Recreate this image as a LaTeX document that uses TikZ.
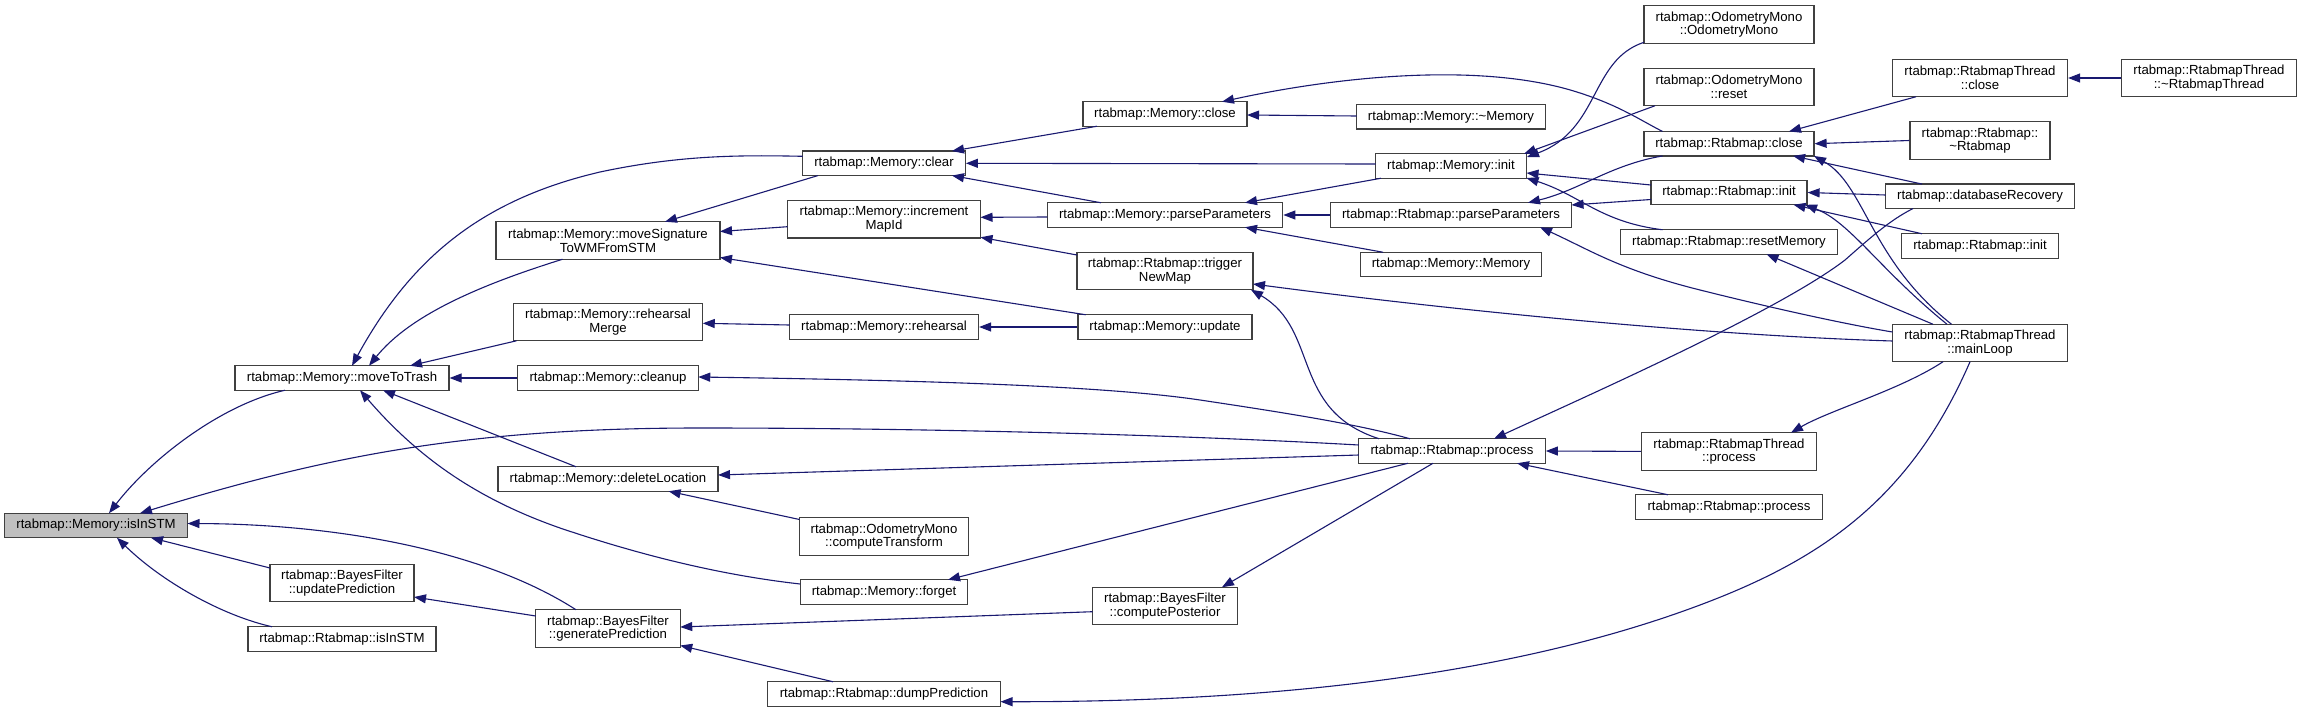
\documentclass[tikz,border=0pt]{standalone}
\usepackage{fontspec}
\setmainfont{Liberation Sans}
\usetikzlibrary{arrows.meta,calc}
\definecolor{mblue}{RGB}{25,25,112}
\definecolor{rootgray}{RGB}{191,191,191}
\definecolor{bordergray}{RGB}{64,64,64}
\begin{document}
\begin{tikzpicture}[x=1pt,y=-1pt,>={Triangle[length=12pt,width=9pt]},
  fn/.style={draw=bordergray,line width=1.2pt,fill=white,inner sep=0pt,align=center,font=\fontsize{13.2}{13.6}\selectfont},
  hone/.style={minimum height=24.5},
  htwo/.style={minimum height=37.5},
  edge/.style={draw=mblue,line width=1.1pt,<-}]
\useasboundingbox (0,0) rectangle (2302,712);
\fill[white] (0,0) rectangle (2302,712);
% nodes
\node[fn,hone,fill=rootgray,minimum width=183] (isInSTM) at (96,525.5) {rtabmap::Memory::isInSTM};
\node[fn,hone,minimum width=214] (moveToTrash) at (342,378) {rtabmap::Memory::moveToTrash};
\node[fn,htwo,minimum width=144] (updPred) at (342,583) {rtabmap::BayesFilter\\::updatePrediction};
\node[fn,hone,minimum width=188] (RisInSTM) at (342,639) {rtabmap::Rtabmap::isInSTM};
\node[fn,htwo,minimum width=224] (moveSig) at (608,240.5) {rtabmap::Memory::moveSignature\\ToWMFromSTM};
\node[fn,htwo,minimum width=189.5] (rehMerge) at (608,322) {rtabmap::Memory::rehearsal\\Merge};
\node[fn,hone,minimum width=180.5] (cleanup) at (608,378) {rtabmap::Memory::cleanup};
\node[fn,hone,minimum width=220] (delLoc) at (608,479) {rtabmap::Memory::deleteLocation};
\node[fn,htwo,minimum width=144.5] (genPred) at (608,628.5) {rtabmap::BayesFilter\\::generatePrediction};
\node[fn,hone,minimum width=162.6] (clear) at (884,163.3) {rtabmap::Memory::clear};
\node[fn,htwo,minimum width=193] (incMap) at (884,219.3) {rtabmap::Memory::increment\\MapId};
\node[fn,hone,minimum width=189] (rehearsal) at (884,327) {rtabmap::Memory::rehearsal};
\node[fn,htwo,minimum width=169] (compTr) at (884,536.5) {rtabmap::OdometryMono\\::computeTransform};
\node[fn,hone,minimum width=167.5] (forget) at (884,592) {rtabmap::Memory::forget};
\node[fn,hone,minimum width=233] (dumpPred) at (884,694) {rtabmap::Rtabmap::dumpPrediction};
\node[fn,hone,minimum width=164] (Mclose) at (1165,114) {rtabmap::Memory::close};
\node[fn,hone,minimum width=235.5] (MPP) at (1165,215) {rtabmap::Memory::parseParameters};
\node[fn,htwo,minimum width=176] (trigNM) at (1165,271) {rtabmap::Rtabmap::trigger\\NewMap};
\node[fn,hone,minimum width=174] (update) at (1165,327) {rtabmap::Memory::update};
\node[fn,htwo,minimum width=145] (compPost) at (1165,606) {rtabmap::BayesFilter\\::computePosterior};
\node[fn,hone,minimum width=189] (dMemory) at (1451,116.7) {rtabmap::Memory::\textasciitilde Memory};
\node[fn,hone,minimum width=151] (Minit) at (1451,166) {rtabmap::Memory::init};
\node[fn,hone,minimum width=241] (RPP) at (1451,215) {rtabmap::Rtabmap::parseParameters};
\node[fn,hone,minimum width=181.5] (MMemory) at (1451,264.5) {rtabmap::Memory::Memory};
\node[fn,hone,minimum width=186.5] (Rproc) at (1452,451) {rtabmap::Rtabmap::process};
\node[fn,htwo,minimum width=170] (OdoMono) at (1729,24.5) {rtabmap::OdometryMono\\::OdometryMono};
\node[fn,htwo,minimum width=170] (OdoReset) at (1729,87) {rtabmap::OdometryMono\\::reset};
\node[fn,hone,minimum width=170] (Rclose) at (1729,143.7) {rtabmap::Rtabmap::close};
\node[fn,hone,minimum width=156] (Rinit) at (1729,192.5) {rtabmap::Rtabmap::init};
\node[fn,hone,minimum width=217.5] (resetMem) at (1729,242) {rtabmap::Rtabmap::resetMemory};
\node[fn,htwo,minimum width=175] (RTproc) at (1729,451.4) {rtabmap::RtabmapThread\\::process};
\node[fn,hone,minimum width=187] (Rproc2) at (1729,507) {rtabmap::Rtabmap::process};
\node[fn,htwo,minimum width=175] (RTclose) at (1980,78) {rtabmap::RtabmapThread\\::close};
\node[fn,htwo,minimum width=175] (dRTthread) at (2209,78) {rtabmap::RtabmapThread\\::\textasciitilde RtabmapThread};
\node[fn,htwo,minimum width=140] (dRtabmap) at (1980,140.5) {rtabmap::Rtabmap::\\\textasciitilde Rtabmap};
\node[fn,hone,minimum width=189] (dbRec) at (1980,196.3) {rtabmap::databaseRecovery};
\node[fn,hone,minimum width=156.5] (Rinit2) at (1980,246) {rtabmap::Rtabmap::init};
\node[fn,htwo,minimum width=175] (mainLoop) at (1980,343) {rtabmap::RtabmapThread\\::mainLoop};
% edges (arrowhead at callee)
\draw[edge] ($(isInSTM)+(13,-12.25)$) .. controls (150,460) and (220,405) .. ($(moveToTrash)+(-57,12.25)$);
\draw[edge] ($(isInSTM)+(44,-12.25)$) .. controls (330,455) and (470,428) .. (700,428) .. controls (950,428) and (1200,436) .. ($(Rproc)+(-93.25,-6)$);
\draw[edge] ($(isInSTM)+(91.5,-2)$) .. controls (330,524) and (480,548) .. ($(genPred)+(-32,-18.75)$);
\draw[edge] ($(isInSTM)+(55,12.25)$) -- ($(updPred)+(-72,-15)$);
\draw[edge] ($(isInSTM)+(21,12.25)$) .. controls (160,580) and (220,615) .. ($(RisInSTM)+(-70,-12.25)$);
\draw[edge] ($(moveToTrash)+(10,-12.25)$) .. controls (410,260) and (480,200) .. (600,172) .. controls (680,155) and (740,155) .. ($(clear)+(-81.3,-7)$);
\draw[edge] ($(moveToTrash)+(27,-12.25)$) .. controls (410,315) and (480,285) .. ($(moveSig)+(-45.5,18.75)$);
\draw[edge] ($(moveToTrash)+(68,-12.25)$) -- ($(rehMerge)+(-91.4,18.75)$);
\draw[edge] (moveToTrash.east) -- (cleanup.west);
\draw[edge] ($(moveToTrash)+(41,12.25)$) -- ($(delLoc)+(-32,-12.25)$);
\draw[edge] ($(moveToTrash)+(18,12.25)$) .. controls (420,460) and (480,500) .. (560,528) .. controls (640,555) and (720,575) .. ($(forget)+(-83.75,-8)$);
\draw[edge] ($(updPred)+(72,14)$) -- ($(genPred)+(-72.25,-12.5)$);
\draw[edge] ($(moveSig)+(57,-18.75)$) -- ($(clear)+(-66,12.25)$);
\draw[edge] ($(moveSig)+(112,-9)$) -- ($(incMap)+(-96.5,7.4)$);
\draw[edge] ($(moveSig)+(112,17)$) -- ($(update)+(-79.3,-12.25)$);
\draw[edge] ($(rehMerge)+(94.75,1.3)$) -- ($(rehearsal)+(-94.5,-2)$);
\draw[edge] (rehearsal.east) -- (update.west);
\draw[edge] ($(clear)+(68,-12.25)$) -- ($(Mclose)+(-68,12.25)$);
\draw[edge] (clear.east) -- ($(Minit)+(-75.5,-2)$);
\draw[edge] ($(clear)+(68,12.25)$) -- ($(MPP)+(-64,-12.25)$);
\draw[edge] ($(incMap)+(96.5,-2)$) -- ($(MPP)+(-117.75,2)$);
\draw[edge] ($(incMap)+(96.5,18)$) -- ($(trigNM)+(-88,-16)$);
\draw[edge] ($(delLoc)+(110,-4)$) -- ($(Rproc)+(-93.25,4)$);
\draw[edge] ($(delLoc)+(60.6,12.25)$) -- ($(compTr)+(-84.5,-17)$);
\draw[edge] ($(cleanup)+(90.25,-1)$) .. controls (900,380) and (1100,385) .. (1200,400) .. controls (1300,415) and (1360,425) .. ($(Rproc)+(-42,-12.25)$);
\draw[edge] ($(forget)+(64,-12.25)$) -- ($(Rproc)+(-44,12.25)$);
\draw[edge] ($(compPost)+(57,-18.75)$) -- ($(Rproc)+(-19,12.25)$);
\draw[edge] ($(trigNM)+(86,18.75)$) .. controls (1320,330) and (1290,410) .. ($(Rproc)+(-73,-12.25)$);
\draw[edge] ($(genPred)+(72.25,-1.5)$) -- ($(compPost)+(-72.5,5.7)$);
\draw[edge] ($(genPred)+(72.25,17)$) -- ($(dumpPred)+(-51,-12.25)$);
\draw[edge] ($(dumpPred)+(116.5,7.7)$) .. controls (1250,702) and (1500,680) .. (1700,605) .. controls (1820,560) and (1910,500) .. ($(mainLoop)+(-10,18.75)$);
\draw[edge] ($(Mclose)+(82,1)$) -- ($(dMemory)+(-94.5,-0.7)$);
\draw[edge] ($(Mclose)+(57,-12.25)$) .. controls (1330,78) and (1480,60) .. (1580,93) .. controls (1620,106) and (1640,120) .. ($(Rclose)+(-66.5,-12.25)$);
\draw[edge] ($(MPP)+(80,-12.25)$) -- ($(Minit)+(-70,12.25)$);
\draw[edge] (MPP.east) -- (RPP.west);
\draw[edge] ($(MPP)+(80,12.25)$) -- ($(MMemory)+(-68,-12.25)$);
\draw[edge] ($(Minit)+(76,-9)$) .. controls (1600,130) and (1590,60) .. ($(OdoMono)+(-85,17.8)$);
\draw[edge] ($(Minit)+(73,-12.25)$) -- ($(OdoReset)+(-74,18.75)$);
\draw[edge] ($(Minit)+(75.5,7)$) -- ($(Rinit)+(-78,-7.5)$);
\draw[edge] ($(Minit)+(75.5,12)$) .. controls (1580,195) and (1600,222) .. ($(resetMem)+(-66.5,-12.25)$);
\draw[edge] ($(RPP)+(77,-12.25)$) .. controls (1580,190) and (1610,165) .. ($(Rclose)+(-66.5,12.25)$);
\draw[edge] ($(RPP)+(120.5,-10)$) -- ($(Rinit)+(-78,7)$);
\draw[edge] ($(RPP)+(89,12.25)$) .. controls (1590,250) and (1620,270) .. (1700,290) .. controls (1780,310) and (1850,325) .. ($(mainLoop)+(-87.5,-11)$);
\draw[edge] ($(trigNM)+(88,13)$) .. controls (1450,310) and (1700,335) .. ($(mainLoop)+(-87.5,-2)$);
\draw[edge] (Rproc.east) -- (RTproc.west);
\draw[edge] ($(Rproc)+(65,12.25)$) -- ($(Rproc2)+(-61,-12.25)$);
\draw[edge] ($(Rproc)+(42,-12.25)$) .. controls (1600,390) and (1780,310) .. (1845,260) .. controls (1870,238) and (1890,220) .. ($(dbRec)+(-67,12.25)$);
\draw[edge] ($(RTproc)+(62,-18.75)$) .. controls (1830,410) and (1900,390) .. ($(mainLoop)+(-37,18.75)$);
\draw[edge] ($(Rclose)+(60,-12.25)$) -- ($(RTclose)+(-64,18.75)$);
\draw[edge] (Rclose.east) -- (dRtabmap.west);
\draw[edge] ($(Rclose)+(64,12.25)$) -- ($(dbRec)+(-58,-12.25)$);
\draw[edge] ($(Rclose)+(85,12.25)$) .. controls (1865,185) and (1870,260) .. ($(mainLoop)+(-28.5,-18.75)$);
\draw[edge] (Rinit.east) -- ($(dbRec)+(-94.5,-1.3)$);
\draw[edge] ($(Rinit)+(64.5,12.25)$) -- ($(Rinit2)+(-58,-12.25)$);
\draw[edge] ($(Rinit)+(76,12.25)$) .. controls (1850,222) and (1880,270) .. ($(mainLoop)+(-33,-18.75)$);
\draw[edge] ($(resetMem)+(37.5,12.25)$) -- ($(mainLoop)+(-47,-18.75)$);
\draw[edge] (RTclose.east) -- (dRTthread.west);
\end{tikzpicture}
\end{document}
